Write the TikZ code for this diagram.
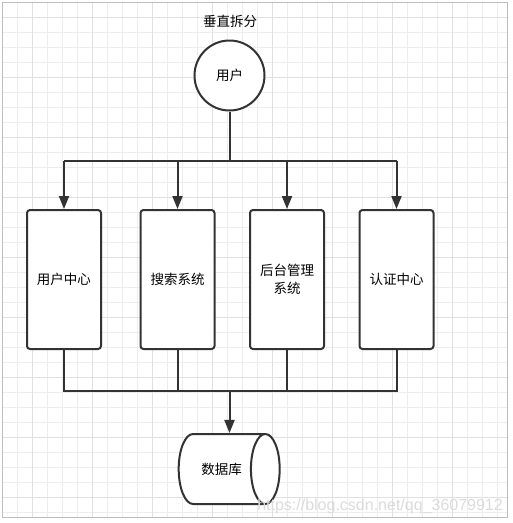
\documentclass[tikz,border=0pt]{standalone}
\usepackage{fontspec}
\setmainfont{Noto Sans CJK SC}
\newfontfamily\wmfont{Liberation Sans}
\usepackage{xcolor}
\usepackage{tikz}
\usetikzlibrary{
  arrows.meta,
  calc,
  shapes.geometric
}
\definecolor{ink}{HTML}{333333}
\definecolor{gridminor}{HTML}{EDEDED}
\definecolor{gridmajor}{HTML}{E0E0E0}
\definecolor{frame}{HTML}{BDBDBD}
\tikzset{
  sysbox/.style={
    draw=ink,
    line width=2pt,
    rounded corners=3pt,
    fill=white,
    minimum width=74pt,
    minimum height=139pt,
    align=center,
    font=\fontsize{13.5}{18}\selectfont},
  usercircle/.style={
    circle,
    draw=ink,
    line width=2pt,
    fill=white,
    minimum size=70pt,
    inner sep=0pt,
    font=\fontsize{13.5}{16}\selectfont},
  dbcyl/.style={
    cylinder,
    draw=ink,
    line width=2pt,
    fill=white,
    aspect=2.3,
    minimum width=70pt,
    minimum height=101pt,
    inner sep=0pt,
    font=\fontsize{13.5}{16}\selectfont},
  wire/.style={
    draw=ink,
    line width=2pt},
  flow/.style={
    wire,
    -{Triangle[width=10pt,length=13pt]}}
  }

\begin{document}
\begin{tikzpicture}[x=1pt,y=-1pt]
      \useasboundingbox (0,0) rectangle (513,523);
      % background grid
      \foreach \g in {17,32,...,497} {
        \draw[gridminor,line width=0.8pt] (\g,2) -- (\g,517);
      }
      \foreach \g in {17,32,...,512} {
        \draw[gridminor,line width=0.8pt] (2,\g) -- (507,\g);
      }
      \foreach \g in {32,92,...,452} {
        \draw[gridmajor,line width=0.8pt] (\g,2) -- (\g,517);
      }
      \foreach \g in {17,77,...,497} {
        \draw[gridmajor,line width=0.8pt] (2,\g) -- (507,\g);
      }
      \draw[frame,line width=1pt] (2,2) rectangle (507,517);

      \node[font=\fontsize{13.5}{16}\selectfont] (title) at (230,21) {垂直拆分};
      \node[usercircle] (user) at (229.5,75.5) {用户};
      \node[sysbox] (uc) at (64,279.5) {用户中心};
      \node[sysbox] (ss) at (177.5,279.5) {搜索系统};
      \node[sysbox] (gl) at (287,279.5) {后台管理\\系统};
      \node[sysbox] (rz) at (396.5,279.5) {认证中心};
      \node[dbcyl] (db) at (221.5,469) {数据库};
      \coordinate (top) at (229.5,160.5);
      \coordinate (bot) at (229.5,391);

      \draw[wire] (user) -- (top);
      \draw[wire] (uc.north |- top) -- (rz.north |- top);
      \path
      (uc.north |- top) edge[flow] (uc.north)
      (ss.north |- top) edge[flow] (ss.north)
      (gl.north |- top) edge[flow] (gl.north)
      (rz.north |- top) edge[flow] (rz.north);

      \draw[wire] (uc.south) -- (uc.south |- bot) -- (rz.south |- bot) -- (rz.south);
      \draw[wire] (ss.south) -- (ss.south |- bot);
      \draw[wire] (gl.south) -- (gl.south |- bot);
      \draw[flow] (bot) -- (bot |- db.north);

      \node[anchor=base east,text=black!14,inner sep=0pt,font=\wmfont\fontsize{16}{18}\selectfont] (wm) at (503,510) {https://blog.csdn.net/qq\_36079912};
    \end{tikzpicture}
\end{document}
